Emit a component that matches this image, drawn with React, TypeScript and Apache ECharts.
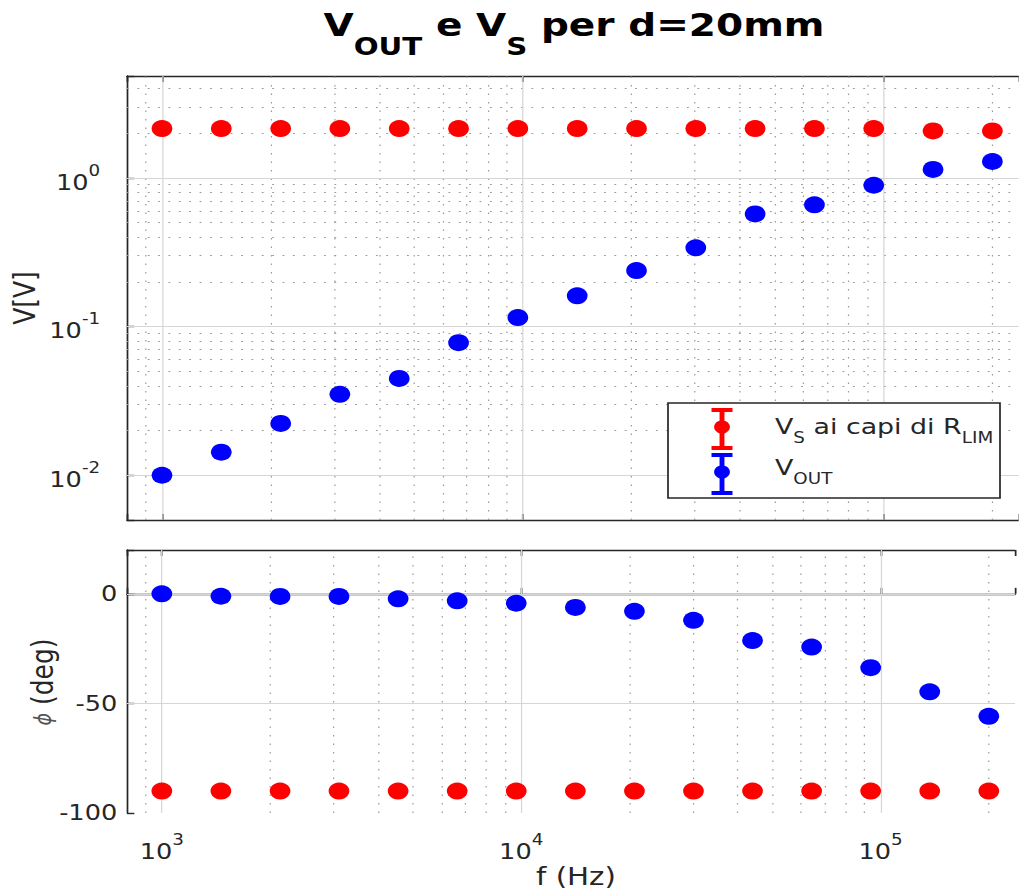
import React, { useEffect, useRef } from "react";
import * as echarts from "echarts";

// ---------- data ----------
const freqHz = [1000, 1460, 2133, 3111, 4544, 6635, 9686, 14145, 20654, 30148, 44015, 64266, 93820, 136970, 200000];
const vsAmp = [2.15, 2.15, 2.15, 2.15, 2.15, 2.15, 2.15, 2.15, 2.15, 2.15, 2.15, 2.15, 2.15, 2.07, 2.07];
const voutAmp = [0.01, 0.0143, 0.0223, 0.035, 0.0448, 0.078, 0.115, 0.161, 0.238, 0.339, 0.573, 0.659, 0.893, 1.14, 1.29];
const vsPhase = [-90, -90, -90, -90, -90, -90, -90, -90, -90, -90, -90, -90, -90, -90, -90];
const voutPhase = [0, -1.1, -1.2, -1.2, -2.3, -3.2, -4.3, -6.2, -8.0, -12.1, -21.3, -24.3, -33.7, -44.7, -55.9];

const xMajor = [1e3, 1e4, 1e5];
const ampMajor = [0.01, 0.1, 1];
const phaseMajor = [-100, -50, 0];

const X_MIN = 800;
const X_MAX = 236600;
const AMP_MIN = 0.005;
const AMP_MAX = 4.85;
const PH_MIN = -100;
const PH_MAX = 20;

// the reference picture is horizontally stretched; draw narrower and stretch with CSS
const SX = 1.22;
const W = 1019 / SX;
const H = 893;
const px = (v: number) => v / SX; // page x -> chart x

const FONT = "DejaVu Sans";
const TXT = "#262626";
const RED = "#ff0000";
const BLUE = "#0000ff";

function minorLog(min: number, max: number): number[] {
  const out: number[] = [];
  for (let e = Math.floor(Math.log10(min)); e <= Math.ceil(Math.log10(max)); e++) {
    for (let m = 2; m <= 9; m++) {
      const v = m * Math.pow(10, e);
      if (v > min && v < max) out.push(v);
    }
  }
  return out;
}

const isPow10 = (v: number) => {
  const l = Math.log10(v);
  return Math.abs(l - Math.round(l)) < 1e-6;
};
const logLabel = (v: number) => (isPow10(v) ? `{b|10}{s|${Math.round(Math.log10(v))}}` : "");

const richFor = (big: number, small: number) => ({
  b: { fontSize: big, fontFamily: FONT, color: TXT, lineHeight: 30, verticalAlign: "bottom" },
  s: { fontSize: small, fontFamily: FONT, color: TXT, lineHeight: small, verticalAlign: "top" },
});

const majorStyle = { color: "#d6d6d6", width: 1, type: "solid" };
const minorStyle = { color: "#9a9a9a", width: 1, type: [1.5, 7] };

function gridSeries(xi: number, yi: number, xs: number[], ys: number[], style: any, z: number) {
  return {
    type: "scatter",
    xAxisIndex: xi,
    yAxisIndex: yi,
    data: [],
    silent: true,
    z,
    markLine: {
      silent: true,
      symbol: ["none", "none"],
      label: { show: false },
      lineStyle: style,
      emphasis: { disabled: true },
      data: [...xs.map((v) => ({ xAxis: v })), ...ys.map((v) => ({ yAxis: v }))],
    },
  };
}

function App() {
  const ref = useRef<HTMLDivElement>(null);

  useEffect(() => {
    if (!ref.current) return;
    const chart = echarts.init(ref.current, undefined, { renderer: "svg" });

    const xMinor = minorLog(X_MIN, X_MAX);
    const ampMinor = minorLog(AMP_MIN, AMP_MAX);

    const axisLine = { show: true, lineStyle: { color: TXT, width: 1.4 } };
    const axisTick = { show: true, inside: true, length: 6, lineStyle: { color: TXT, width: 1.4 } };

    const xBase = (grid: number, pos: string, labels: boolean) => ({
      type: "log",
      logBase: 10,
      gridIndex: grid,
      position: pos,
      min: X_MIN,
      max: X_MAX,
      axisLine,
      axisTick,
      splitLine: { show: false },
      axisLabel: labels
        ? { show: true, margin: 19, formatter: logLabel, rich: richFor(21, 15) }
        : { show: false },
    });

    const mk = (name: string, x: number[], y: number[], color: string, xi: number, yi: number) => ({
      name,
      type: "scatter",
      xAxisIndex: xi,
      yAxisIndex: yi,
      symbol: "circle",
      symbolSize: 17,
      itemStyle: { color, opacity: 1 },
      z: 5,
      data: x.map((f, i) => [f, y[i]]),
    });

    const legendIcon = (cx: number, top: number, bottom: number, cy: number, color: string) => [
      { type: "line", z: 101, shape: { x1: cx, y1: top, x2: cx, y2: bottom }, style: { stroke: color, lineWidth: 4 } },
      { type: "line", z: 101, shape: { x1: cx - 8.6, y1: top, x2: cx + 8.6, y2: top }, style: { stroke: color, lineWidth: 4 } },
      { type: "line", z: 101, shape: { x1: cx - 8.6, y1: bottom, x2: cx + 8.6, y2: bottom }, style: { stroke: color, lineWidth: 4 } },
      { type: "circle", z: 102, shape: { cx, cy, r: 6.5 }, style: { fill: color } },
    ];

    const legRich = {
      m: { fontSize: 22, fontFamily: FONT, fill: TXT, lineHeight: 24, verticalAlign: "top" },
      s: { fontSize: 15, fontFamily: FONT, fill: TXT, lineHeight: 15, padding: [15, 0, 0, 0], verticalAlign: "top" },
    };

    chart.setOption({
      animation: false,
      backgroundColor: "#ffffff",
      grid: [
        { left: px(127), top: 76, right: 0, height: 444 },
        { left: px(127), top: 550, right: 0, height: 263 },
      ],
      xAxis: [
        xBase(0, "bottom", false),
        xBase(0, "top", false),
        xBase(1, "bottom", true),
        xBase(1, "top", false),
      ],
      yAxis: [
        {
          type: "log",
          logBase: 10,
          gridIndex: 0,
          min: AMP_MIN,
          max: AMP_MAX,
          axisLine,
          axisTick,
          splitLine: { show: false },
          axisLabel: { margin: 22, formatter: logLabel, rich: richFor(21, 15) },
        },
        {
          type: "value",
          gridIndex: 1,
          min: PH_MIN,
          max: PH_MAX,
          interval: 50,
          axisLine,
          axisTick,
          splitLine: { show: false },
          axisLabel: {
            margin: 8,
            fontSize: 21,
            fontFamily: FONT,
            color: TXT,
            formatter: (v: number) => (phaseMajor.includes(v) ? String(v) : ""),
          },
        },
      ],
      series: [
        gridSeries(0, 0, xMinor, ampMinor, minorStyle, 1),
        gridSeries(0, 0, xMajor, ampMajor, majorStyle, 2),
        gridSeries(2, 1, xMinor, [], minorStyle, 1),
        gridSeries(2, 1, xMajor, phaseMajor.filter((v) => v > PH_MIN), majorStyle, 2),
        mk("VS", freqHz, vsAmp, RED, 0, 0),
        mk("VOUT", freqHz, voutAmp, BLUE, 0, 0),
        mk("VS phase", freqHz, vsPhase, RED, 2, 1),
        mk("VOUT phase", freqHz, voutPhase, BLUE, 2, 1),
      ],
      graphic: [
        {
          type: "text",
          x: px(574),
          y: 9,
          z: 100,
          style: {
            text: "{m|V}{s|OUT}{m| e V}{s|S}{m| per d=20mm}",
            align: "center",
            verticalAlign: "top",
            rich: {
              m: { fontSize: 32, fontWeight: "bold", fontFamily: FONT, fill: "#000", lineHeight: 34, verticalAlign: "top" },
              s: { fontSize: 24, fontWeight: "bold", fontFamily: FONT, fill: "#000", lineHeight: 24, padding: [25, 0, 0, 0], verticalAlign: "top" },
            },
          },
        },
        {
          type: "text",
          x: px(25),
          y: 298,
          rotation: Math.PI / 2,
          z: 100,
          style: { text: "V[V]", fontSize: 25, fontFamily: FONT, fill: TXT, align: "center", verticalAlign: "middle" },
        },
        {
          type: "text",
          x: px(43),
          y: 682,
          rotation: Math.PI / 2,
          z: 100,
          style: {
            text: "{p|ϕ}{m| (deg)}",
            align: "center",
            verticalAlign: "middle",
            rich: {
              p: { fontSize: 19, fontStyle: "italic", fontFamily: FONT, fill: "#555" },
              m: { fontSize: 25, fontFamily: FONT, fill: TXT },
            },
          },
        },
        {
          type: "text",
          x: px(576),
          y: 876,
          z: 100,
          style: { text: "f (Hz)", fontSize: 24, fontFamily: FONT, fill: TXT, align: "center", verticalAlign: "middle" },
        },
        {
          type: "rect",
          z: 100,
          shape: { x: px(668), y: 403, width: px(332), height: 95 },
          style: { fill: "#ffffff", stroke: TXT, lineWidth: 1.4 },
        },
        ...legendIcon(px(722), 410, 448, 427, RED),
        ...legendIcon(px(722), 455, 493, 472, BLUE),
        {
          type: "text",
          x: px(775),
          y: 415,
          z: 101,
          style: { text: "{m|V}{s|S}{m| ai capi di R}{s|LIM}", rich: legRich, align: "left", verticalAlign: "top" },
        },
        {
          type: "text",
          x: px(775),
          y: 456,
          z: 101,
          style: { text: "{m|V}{s|OUT}", rich: legRich, align: "left", verticalAlign: "top" },
        },
      ],
    });

    return () => chart.dispose();
  }, []);

  return (
    <div
      ref={ref}
      style={{
        position: "absolute",
        left: 0,
        top: 0,
        width: W,
        height: H,
        transform: `scaleX(${SX})`,
        transformOrigin: "0 0",
      }}
    />
  );
}

export default App;
